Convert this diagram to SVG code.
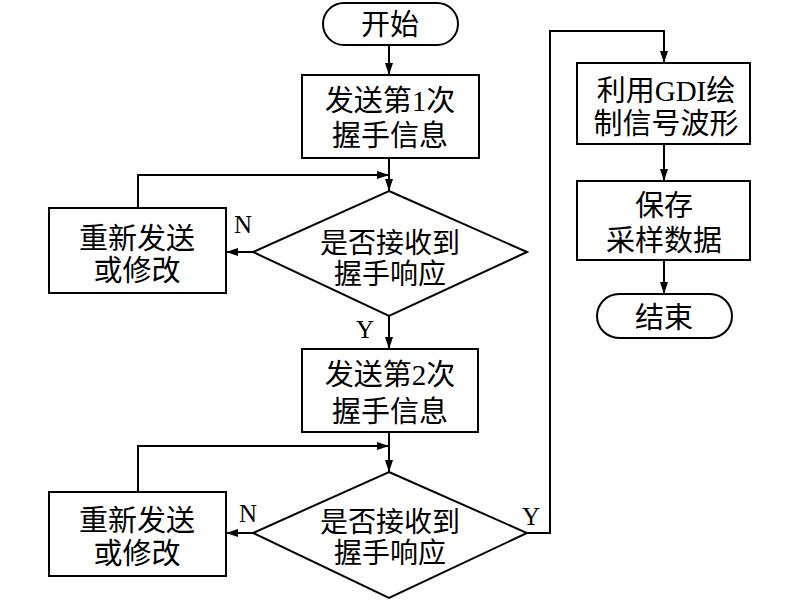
<svg xmlns="http://www.w3.org/2000/svg" width="800" height="601" viewBox="0 0 800 601">
<defs>
<marker id="ah" viewBox="0 0 12 8" refX="12" refY="4" markerWidth="12" markerHeight="8" markerUnits="userSpaceOnUse" orient="auto">
<path d="M0,0 L12,4 L0,8 Z" fill="#000"/>
</marker>
<style>
.s{fill:#fff;stroke:#000;stroke-width:2}
.c{fill:none;stroke:#000;stroke-width:2;marker-end:url(#ah)}
text{font-family:"Liberation Serif","Noto Sans CJK SC",serif;font-size:29px;text-anchor:middle;fill:#000}
.d{font-size:28px}
.lab{font-size:25px}
</style>
</defs>
<rect width="800" height="601" fill="#fff"/>
<g id="connectors">
<path class="c" d="M389,45 V75"/>
<path class="c" d="M389,158 V191"/>
<path class="c" d="M138,208 V175 H389"/>
<path class="c" d="M253,252 H226"/>
<path class="c" d="M389,316 V349"/>
<path class="c" d="M389,432 V472"/>
<path class="c" d="M138,492 V446 H389"/>
<path class="c" d="M253,533 H226"/>
<path class="c" d="M527,533 H550 V31 H664 V63"/>
<path class="c" d="M664,144 V181"/>
<path class="c" d="M664,260 V294"/>
</g>
<g id="start"><rect class="s" x="323" y="3" width="135" height="42" rx="21"/><text x="390" y="35">开始</text></g>
<g id="send1"><rect class="s" x="302" y="75" width="177" height="83"/><text x="390" y="111">发送第1次</text><text x="390" y="146">握手信息</text></g>
<g id="dec1"><polygon class="s" points="389,191 527,252 389,316 253,252"/><text class="d" x="390" y="253">是否接收到</text><text class="d" x="390" y="284">握手响应</text></g>
<g id="retry1"><rect class="s" x="49" y="208" width="177" height="85"/><text x="137" y="249">重新发送</text><text x="137" y="281">或修改</text></g>
<g id="send2"><rect class="s" x="302" y="349" width="176" height="83"/><text x="390" y="385">发送第2次</text><text x="390" y="422">握手信息</text></g>
<g id="dec2"><polygon class="s" points="389,472 527,533 389,598 253,533"/><text class="d" x="390" y="532">是否接收到</text><text class="d" x="390" y="563">握手响应</text></g>
<g id="retry2"><rect class="s" x="49" y="492" width="177" height="84"/><text x="137" y="531">重新发送</text><text x="137" y="564">或修改</text></g>
<g id="draw"><rect class="s" x="577" y="63" width="173" height="81"/><text x="666" y="101">利用GDI绘</text><text x="666" y="134">制信号波形</text></g>
<g id="save"><rect class="s" x="577" y="181" width="173" height="79"/><text x="664" y="216">保存</text><text x="664" y="251">采样数据</text></g>
<g id="end"><rect class="s" x="597" y="294" width="135" height="44" rx="22"/><text x="664" y="328">结束</text></g>
<g id="labels">
<text class="lab" x="243" y="233">N</text>
<text class="lab" x="365" y="338">Y</text>
<text class="lab" x="248" y="522">N</text>
<text class="lab" x="531" y="525">Y</text>
</g>
</svg>
